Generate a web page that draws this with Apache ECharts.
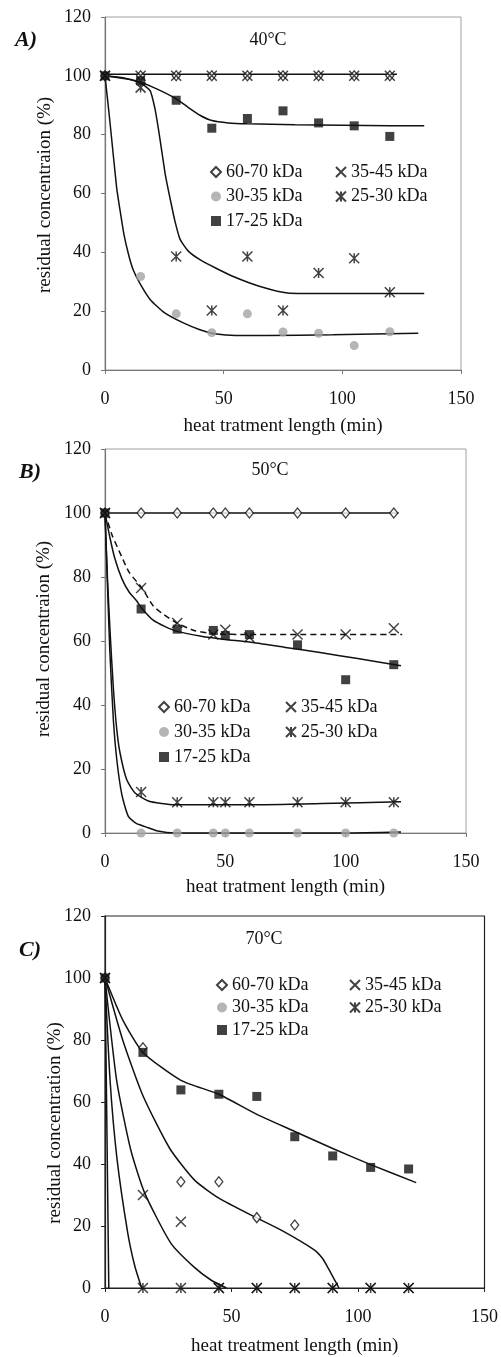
<!DOCTYPE html>
<html><head><meta charset="utf-8">
<script src="https://cdn.jsdelivr.net/npm/echarts@6/dist/echarts.min.js"></script>
<style>html,body{margin:0;padding:0;background:#fff}#c{width:501px;height:1357px}</style>
</head><body><div id="c"></div>
<script>
// ---------------- DATA ----------------
const seriesNames = ['60-70 kDa','35-45 kDa','30-35 kDa','25-30 kDa','17-25 kDa'];
const xTicks = [0,50,100,150];
const yTicks = [0,20,40,60,80,100,120];

// Panel A (40°C)
const timesA = [0,15,30,45,60,75,90,105,120];
const a6070 = [100,100,100,100,100,100,100,100,100];
const a3545 = [100,100,100,100,100,100,100,100,100];
const a3035 = [100,31.8,19.1,12.7,19.1,12.9,12.5,8.3,13];
const a2530 = [100,96,38.6,20.2,38.6,20.2,33,38,26.4];
const a1725 = [100,98.3,91.7,82.2,85.5,88.1,84,83,79.4];
const fitA_top  = [[0,100.5],[123,100.5]];
const fitA_1725 = [[0,100],[8,99.3],[15,97.8],[22,95.5],[30,92.2],[35,89.3],[40,86.6],[45,84.8],[52,84],[60,83.7],[80,83.4],[100,83.2],[120,83],[134.5,83]];
const fitA_2530 = [[0,100],[10,98.8],[15,97.5],[19,95],[21,89],[22.5,82],[24,74],[25.5,66],[27.5,58],[29.5,50.5],[31.6,44.5],[35,40.5],[40,37.5],[47,34.5],[54,31.8],[65,28.5],[77,26.2],[90,26],[110,26],[134.5,26]];
const fitA_3035 = [[0,100],[2,85],[4.9,62],[6.3,54.5],[8,46],[10,39],[11.9,34],[15,29],[19,24],[25,19.5],[33,16],[40,13.7],[47,12.2],[55,11.7],[68,11.7],[96,12],[132,12.5]];

// Panel B (50°C)
const timesB = [0,15,30,45,50,60,80,100,120];
const b6070 = [100,100,100,100,100,100,100,100,100];
const b3545 = [100,76.6,65.6,62,63.5,61.2,62,62,64];
const b3035 = [100,0,0,0,0,0,0,0,0];
const b2530 = [100,12.8,9.6,9.6,9.6,9.6,9.6,9.6,9.6];
const b1725 = [100,70,63.7,63.3,61.7,62,58.8,47.9,52.6];
const fitB_6070 = [[0,100],[122,100]];
const fitB_3545 = [[0,100],[3,93],[6.9,86.4],[10,81.5],[15.3,76.6],[20,71],[23.6,68.7],[29.9,65.6],[37,63.3],[45,62.3],[60,62],[90,62],[123.5,62]];
const fitB_1725 = [[0,100],[2,92.5],[4,86],[7,79.5],[10,75.3],[13.2,72.5],[15,70.5],[20,66.5],[25,64.5],[30,63],[40,61.5],[50,60.5],[60,59.7],[75,58],[90,56.3],[105,54.5],[123,52.3]];
const fitB_2530 = [[0,100],[1,80],[2.1,63],[3.5,45],[4.9,32.3],[6.25,25],[9,16.7],[12.5,12.5],[18,10],[23.6,9.2],[29,8.8],[60,8.8],[90,9.2],[123,9.8]];
const fitB_3035 = [[0,100],[1,78],[2,57],[3.5,35],[4.9,22.9],[7,12],[9.7,5.2],[13,3],[16.7,2],[22,0.6],[29,0],[70,0],[100,0],[123,0.3]];

// Panel C (70°C)
const timesC = [0,15,30,45,60,75,90,105,120];
const c6070 = [100,77.5,34.3,34.3,22.7,20.3];
const c3545 = [100,30,21.4,0,0,0,0,0,0];
const c3035 = [100];
const c2530 = [100,0,0,0,0,0,0,0,0];
const c1725 = [100,76,63.9,62.5,61.8,48.8,42.6,38.9,38.4];
const fitC_1725 = [[0,100],[7,86.5],[15,76],[30,67],[45,62.5],[60,56],[75,50.5],[90,45],[105,39.8],[123,34]];
const fitC_6070 = [[0,100],[7,80],[15,62],[25.6,45],[35.4,34.8],[45,29],[59,23],[70,18.5],[82.7,12.3],[86,9.5],[88.5,6],[92.5,0]];
const fitC_3545 = [[0,100],[4.6,67],[10.2,44.5],[15.7,30.6],[26,14.5],[35,6.9],[42,2.5],[48,0]];
const fitC_2530 = [[0,100],[2,67],[4.7,42],[9,17.7],[11.8,7],[14.5,0]];
const fitC_3035 = [[0,100],[0.7,55],[1.5,0]];

// ---------------- STYLE ----------------
const FONT = 'Liberation Serif';
const X_SYM = 'path://M0,0L10,10M10,0L0,10';
const STAR_SYM = 'path://M0,0L10,10M10,0L0,10M5,0L5,10';
const sym = {
  '60-70 kDa': {symbol:'diamond', symbolSize:[8,10], itemStyle:{color:'#fff', borderColor:'#111', borderWidth:1.3}},
  '35-45 kDa': {symbol:X_SYM, symbolSize:10, itemStyle:{color:'#111', borderColor:'#111', borderWidth:1.4}},
  '30-35 kDa': {symbol:'circle', symbolSize:9, itemStyle:{color:'#a3a3a3', borderWidth:0}},
  '25-30 kDa': {symbol:STAR_SYM, symbolSize:10, itemStyle:{color:'#111', borderColor:'#111', borderWidth:1.5}},
  '17-25 kDa': {symbol:'rect', symbolSize:9, itemStyle:{color:'#111', borderWidth:0}}
};
function pts(xs, ys){ return ys.map((y,i)=>[xs[i], y]); }

const grids = [
  {left:105, top:17, width:356, height:353, show:true, borderColor:'#a0a0a0', borderWidth:1},
  {left:105, top:449, width:361, height:384, show:true, borderColor:'#a0a0a0', borderWidth:1},
  {left:105, top:916, width:380, height:372, show:true, borderColor:'#222', borderWidth:1.2}
];
const axisCol = ['#777','#777','#222'];
const xNames = ['heat tratment length (min)','heat tratment length (min)','heat treatment length (min)'];
const xGaps = [47,45,49];
const xAxes = grids.map((g,i)=>({
  gridIndex:i, type:'value', min:xTicks[0], max:xTicks[xTicks.length-1], interval:50,
  axisLine:{show:true, lineStyle:{color:axisCol[i], width:1.2}},
  axisTick:{show:true, length:4, lineStyle:{color:axisCol[i]}},
  splitLine:{show:false},
  axisLabel:{fontFamily:FONT, fontSize:18, color:'#111', margin:20},
  name:xNames[i], nameLocation:'middle', nameGap:xGaps[i],
  nameTextStyle:{fontFamily:FONT, fontSize:19, color:'#111'}
}));
const yAxes = grids.map((g,i)=>({
  gridIndex:i, type:'value', min:yTicks[0], max:yTicks[yTicks.length-1], interval:20,
  axisLine:{show:true, lineStyle:{color:axisCol[i], width:1.2}},
  axisTick:{show:true, length:4, lineStyle:{color:axisCol[i]}},
  splitLine:{show:false},
  axisLabel:{fontFamily:FONT, fontSize:18, color:'#111', margin:14}
}));

const series = [];
function fit(idx, data, dashed){
  series.push({type:'line', name:'fit', xAxisIndex:idx, yAxisIndex:idx, data:data,
    showSymbol:false, symbol:'none', smooth:0.2, clip:false, z:2,
    lineStyle:{color:'#111', width:1.5, type: dashed ? [6,4] : 'solid'}, silent:true});
}
function marks(idx, name, xs, ys){
  const s = sym[name];
  series.push({type:'scatter', name:name, xAxisIndex:idx, yAxisIndex:idx, data:pts(xs, ys),
    symbol:s.symbol, symbolSize:s.symbolSize, itemStyle:s.itemStyle, clip:false, z:5});
}
// A
fit(0, fitA_top); fit(0, fitA_1725); fit(0, fitA_2530); fit(0, fitA_3035);
marks(0,'30-35 kDa',timesA,a3035); marks(0,'60-70 kDa',timesA,a6070); marks(0,'35-45 kDa',timesA,a3545);
marks(0,'25-30 kDa',timesA,a2530); marks(0,'17-25 kDa',timesA,a1725);
// B
fit(1, fitB_6070); fit(1, fitB_3545, true); fit(1, fitB_1725); fit(1, fitB_2530); fit(1, fitB_3035);
marks(1,'30-35 kDa',timesB,b3035); marks(1,'60-70 kDa',timesB,b6070); marks(1,'35-45 kDa',timesB,b3545);
marks(1,'25-30 kDa',timesB,b2530); marks(1,'17-25 kDa',timesB,b1725);
// C
fit(2, fitC_1725); fit(2, fitC_6070); fit(2, fitC_3545); fit(2, fitC_2530); fit(2, fitC_3035);
marks(2,'30-35 kDa',timesC,c3035); marks(2,'60-70 kDa',timesC,c6070); marks(2,'35-45 kDa',timesC,c3545);
marks(2,'25-30 kDa',timesC,c2530); marks(2,'17-25 kDa',timesC,c1725);

function leg(left, top, gap, names){
  return {left:left, top:top, orient:'vertical', itemGap:gap, itemWidth:10, itemHeight:10,
    data:names, selectedMode:false, padding:0,
    textStyle:{fontFamily:FONT, fontSize:18, color:'#111', lineHeight:20}};
}
const col1 = [seriesNames[0], seriesNames[2], seriesNames[4]];
const col2 = [seriesNames[1], seriesNames[3]];
const legends = [
  leg(210, 162, 4.5, col1), leg(335, 162, 4.5, col2),
  leg(158, 697, 5, col1), leg(285, 697, 5, col2),
  leg(216, 975, 2.5, col1), leg(349, 975, 2.5, col2)
];

function txt(x, y, s, opt){
  return Object.assign({type:'text', x:x, y:y, style:Object.assign({text:s, fontFamily:FONT, fontSize:18, fill:'#111', textAlign:'center', textVerticalAlign:'middle'}, opt||{})});
}
const graphics = [
  txt(26, 40, 'A)', {fontSize:22, fontWeight:'bold', fontStyle:'italic'}),
  txt(30, 472, 'B)', {fontSize:22, fontWeight:'bold', fontStyle:'italic'}),
  txt(30, 950, 'C)', {fontSize:22, fontWeight:'bold', fontStyle:'italic'}),
  txt(268, 40, '40°C'),
  txt(270, 470, '50°C'),
  txt(264, 939, '70°C'),
  Object.assign(txt(45, 195, 'residual concentraion (%)', {fontSize:19}), {rotation:Math.PI/2}),
  Object.assign(txt(44, 639, 'residual concentraion (%)', {fontSize:19}), {rotation:Math.PI/2}),
  Object.assign(txt(55, 1123, 'residual concentration (%)', {fontSize:19}), {rotation:Math.PI/2})
];

const chart = echarts.init(document.getElementById('c'), null, {renderer:'canvas'});
chart.setOption({
  animation:false, backgroundColor:'#fff',
  grid:grids, xAxis:xAxes, yAxis:yAxes, series:series, legend:legends, graphic:graphics
});
</script></body></html>
